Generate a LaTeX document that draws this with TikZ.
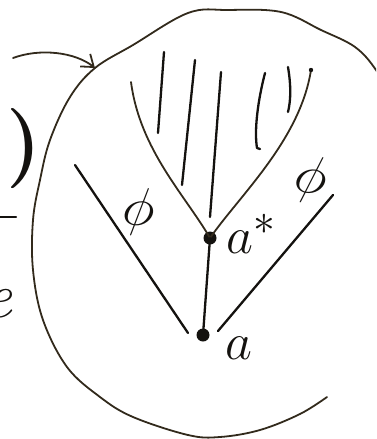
\documentclass[tikz,border=0pt]{standalone}
\usepackage{graphicx}
\usetikzlibrary{arrows.meta}
\definecolor{pen}{RGB}{20,18,15}
\definecolor{pencil}{RGB}{50,42,28}
\begin{document}
\begin{tikzpicture}[x=1pt,y=-1pt,
  ink/.style={line width=2.3pt, line cap=round, line join=round, draw=pen},
  blobline/.style={line width=1.8pt, line cap=round, line join=round, draw=pencil},
  vertex/.style={circle, fill=pen, inner sep=0pt, minimum size=13pt},
  lab/.style={inner sep=0pt, text=pen, font=\fontsize{24.88}{30}\selectfont},
  bigtext/.style={inner sep=0pt, text=pen, font=\fontsize{80}{90}\selectfont}]
\useasboundingbox (0,0) rectangle (376,439);
\clip (0,0) rectangle (376,439);
% outer blob
\draw[blobline] plot[smooth, tension=0.6] coordinates {
  (327,397) (300,414) (260,430) (220,437) (188,435) (133,417) (100,397)
  (67,367) (43,320) (33,270) (33,220) (40,180) (50,140) (70,97) (95,68)
  (133,45) (188,13) (228,10) (281,12) (321,30) (355,47) (376,70) (392,100)};
% incoming arrow
\coordinate (arrS) at (13,58);
\coordinate (arrE) at (95,68);
\draw[blobline, -{Straight Barb[length=11pt,width=16pt,line width=1.8pt]}]
  (arrS) .. controls (40,48) and (75,52) .. (arrE);
% fragments at the left edge
\node[bigtext, anchor=base west, font=\fontsize{80}{90}\selectfont\bfseries] (paren) at (6,168) {)};
\draw[ink] (0,217) -- (16,217);
\node[bigtext, anchor=base west, font=\fontsize{64}{70}\selectfont\itshape] (e) at (-17,317) {e};
% vertices
\node[vertex] (as) at (210,238) {};
\node[vertex] (a) at (203,335) {};
% Y branches
\coordinate (lt) at (131,82);
\coordinate (rt) at (311,70);
\draw[blobline] (lt) .. controls (140,150) and (185,195) .. (as.center);
\draw[blobline] (rt) .. controls (300,140) and (240,195) .. (as.center);
\fill[pen] (rt) circle (2.2pt);
% hatching
\draw[ink] (164,52) -- (158,133);
\draw[ink] (195,60) -- (182,185);
\draw[ink] (221,72) -- (210,217);
\draw[ink] (265,73) .. controls (258,100) and (254,130) .. (257,148) -- (260,149);
\draw[ink] (288,67) .. controls (291,85) and (291,100) .. (288,112);
% stem between a* and a
\draw[ink] (as.center) -- (a.center);
% phi lines
\coordinate (pl1) at (75,165);
\coordinate (pl2) at (188,333);
\coordinate (pr1) at (333,195);
\coordinate (pr2) at (218,331);
\draw[ink] (pl1) -- (pl2);
\draw[ink] (pr1) -- (pr2);
% labels
\node[lab, rotate=-7] (phiL) at (139,212) {\scalebox{2.2}{$\phi$}};
\node[lab, rotate=-13] (phiR) at (311,180) {\scalebox{2.2}{$\phi$}};
\node[lab, anchor=base west] (aslab) at (226,253) {\scalebox{2.1}{$a^{*}$}};
\node[lab, anchor=base west] (alab) at (225,359) {\scalebox{2.1}{$a$}};
\end{tikzpicture}
\end{document}
